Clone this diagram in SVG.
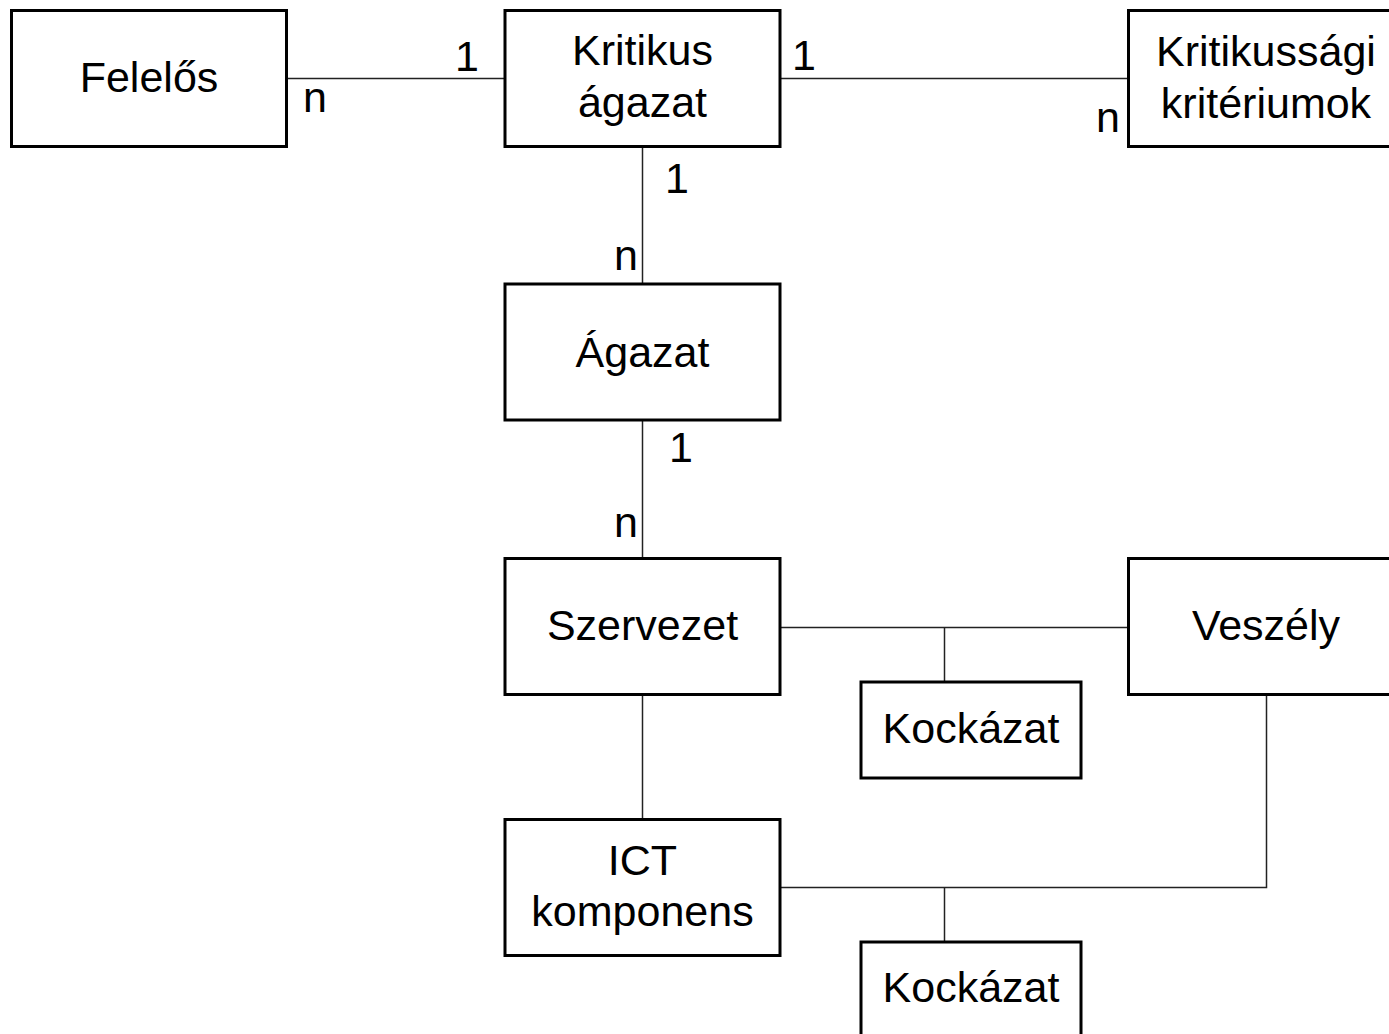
<svg xmlns="http://www.w3.org/2000/svg" width="1389" height="1034" viewBox="0 0 1389 1034">
<style>
.box{fill:#fff;stroke:#000;stroke-width:3}
.t{font-family:"Liberation Sans",Arial,sans-serif;font-size:43px;fill:#000;text-anchor:middle}
.c{fill:none;stroke:#222;stroke-width:1.5}
</style>
<rect width="1389" height="1034" fill="#fff"/>
<g id="connectors">
<line class="c" x1="286" y1="78.5" x2="505" y2="78.5"/>
<line class="c" x1="780" y1="78.5" x2="1128" y2="78.5"/>
<line class="c" x1="642.5" y1="147" x2="642.5" y2="284"/>
<line class="c" x1="642.5" y1="420" x2="642.5" y2="558"/>
<line class="c" x1="780" y1="627.5" x2="1128" y2="627.5"/>
<line class="c" x1="944.5" y1="627.5" x2="944.5" y2="682"/>
<line class="c" x1="642.5" y1="695" x2="642.5" y2="819"/>
<polyline class="c" points="780,887.5 1266.5,887.5 1266.5,695"/>
<line class="c" x1="944.5" y1="887.5" x2="944.5" y2="942"/>
<text class="t" x="467" y="71">1</text>
<text class="t" x="315" y="112">n</text>
<text class="t" x="804" y="70">1</text>
<text class="t" x="1108" y="132">n</text>
<text class="t" x="677" y="193">1</text>
<text class="t" x="626" y="270">n</text>
<text class="t" x="681" y="462">1</text>
<text class="t" x="626" y="537">n</text>
</g>
<g id="felelos"><rect class="box" x="11.5" y="10.5" width="275" height="136"/><text class="t" x="149" y="92">Felelős</text></g>
<g id="kritikus-agazat"><rect class="box" x="505" y="10.5" width="275" height="136"/><text class="t" x="642.5" y="65">Kritikus</text><text class="t" x="642.5" y="117">ágazat</text></g>
<g id="kritikussagi"><rect class="box" x="1128.5" y="10.5" width="276" height="136"/><text class="t" x="1266" y="66">Kritikussági</text><text class="t" x="1266" y="118">kritériumok</text></g>
<g id="agazat"><rect class="box" x="505" y="284" width="275" height="136"/><text class="t" x="642.5" y="367">Ágazat</text></g>
<g id="szervezet"><rect class="box" x="505" y="558.5" width="275" height="136"/><text class="t" x="642.5" y="640">Szervezet</text></g>
<g id="veszely"><rect class="box" x="1128.5" y="558.5" width="276" height="136"/><text class="t" x="1266" y="640">Veszély</text></g>
<g id="kockazat1"><rect class="box" x="861" y="682" width="220" height="96"/><text class="t" x="971" y="743">Kockázat</text></g>
<g id="ict"><rect class="box" x="505" y="819.5" width="275" height="136"/><text class="t" x="642.5" y="875">ICT</text><text class="t" x="642.5" y="926">komponens</text></g>
<g id="kockazat2"><rect class="box" x="861" y="942" width="220" height="100"/><text class="t" x="971" y="1002">Kockázat</text></g>
</svg>
